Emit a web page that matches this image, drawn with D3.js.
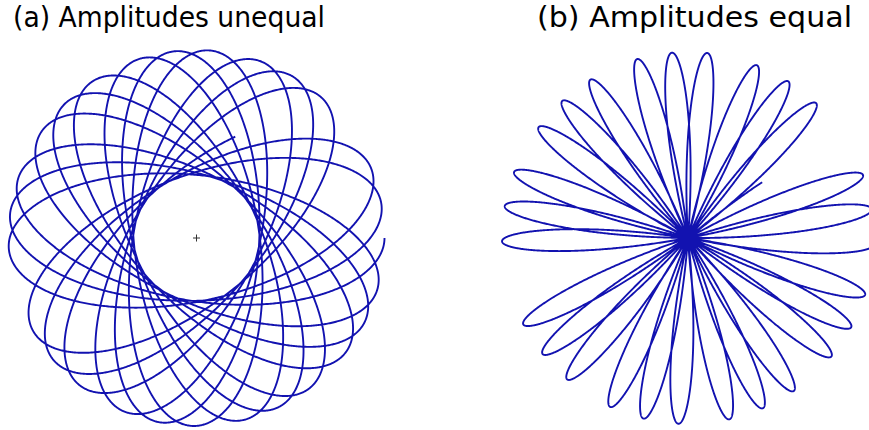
<!DOCTYPE html>
<html>
<head>
<meta charset="utf-8">
<script src="https://cdn.jsdelivr.net/npm/d3@7"></script>
<style>
  html, body { margin: 0; padding: 0; background: #ffffff; }
  svg { display: block; }
</style>
</head>
<body>
<svg id="chart" width="869" height="430"></svg>
<script>
// ---- data ----
const panelIds = ["a", "b"];
const panelTitles = ["(a) Amplitudes unequal", "(b) Amplitudes equal"];
// amplitudes of the anticlockwise and clockwise circular components (fraction of outer radius)
const amplitudesUnequal = [0.333, 0.667];
const amplitudesEqual = [0.5, 0.5];
// angular frequencies of the two components (anticlockwise, clockwise)
const frequencies = [1.0, 1.2331];
// time span of the trace
const timeSpan = [0, 75.03];
// orientation of the starting tip, degrees (panel a, panel b)
const startAngles = [0, -2];
const sampleCount = 10000;

// ---- layout ----
const svg = d3.select("#chart");
const lineColor = "#1212b0";

const layouts = [
  { cx: 196.5, cy: 238, r: 188, title: { x: 13, w: 312 } },
  { cx: 688, cy: 238, r: 186, title: { x: 537, w: 315 } }
];
const amps = [amplitudesUnequal, amplitudesEqual];

const times = d3.range(sampleCount + 1).map(i => timeSpan[0] + (timeSpan[1] - timeSpan[0]) * i / sampleCount);

panelIds.forEach((id, k) => {
  const L = layouts[k];
  const x = d3.scaleLinear().domain([-1, 1]).range([L.cx - L.r, L.cx + L.r]);
  const y = d3.scaleLinear().domain([-1, 1]).range([L.cy + L.r, L.cy - L.r]);
  const [a1, a2] = amps[k];
  const [w1, w2] = frequencies;
  const phi = startAngles[k] * Math.PI / 180;
  const pts = times.map(t => {
    const u = a1 * Math.cos(w1 * t) + a2 * Math.cos(-w2 * t);
    const v = a1 * Math.sin(w1 * t) + a2 * Math.sin(-w2 * t);
    return [u * Math.cos(phi) - v * Math.sin(phi), u * Math.sin(phi) + v * Math.cos(phi)];
  });
  const g = svg.append("g").attr("class", "panel-" + id);
  g.append("path")
    .datum(pts)
    .attr("fill", "none")
    .attr("stroke", lineColor)
    .attr("stroke-width", 1.9)
    .attr("stroke-linejoin", "round")
    .attr("d", d3.line().x(d => x(d[0])).y(d => y(d[1])));

  if (id === "a") {
    // centre marker
    g.append("path")
      .attr("d", `M${x(0) - 3.5},${y(0)}H${x(0) + 3.5}M${x(0)},${y(0) - 3.5}V${y(0) + 3.5}`)
      .attr("stroke", "#333")
      .attr("stroke-width", 1);
  }

  svg.append("text")
    .attr("x", L.title.x)
    .attr("y", 27)
    .attr("textLength", L.title.w)
    .attr("lengthAdjust", "spacingAndGlyphs")
    .style("font-family", "DejaVu Sans")
    .style("font-size", "28px")
    .attr("fill", "#000")
    .text(panelTitles[k]);
});
</script>
</body>
</html>
